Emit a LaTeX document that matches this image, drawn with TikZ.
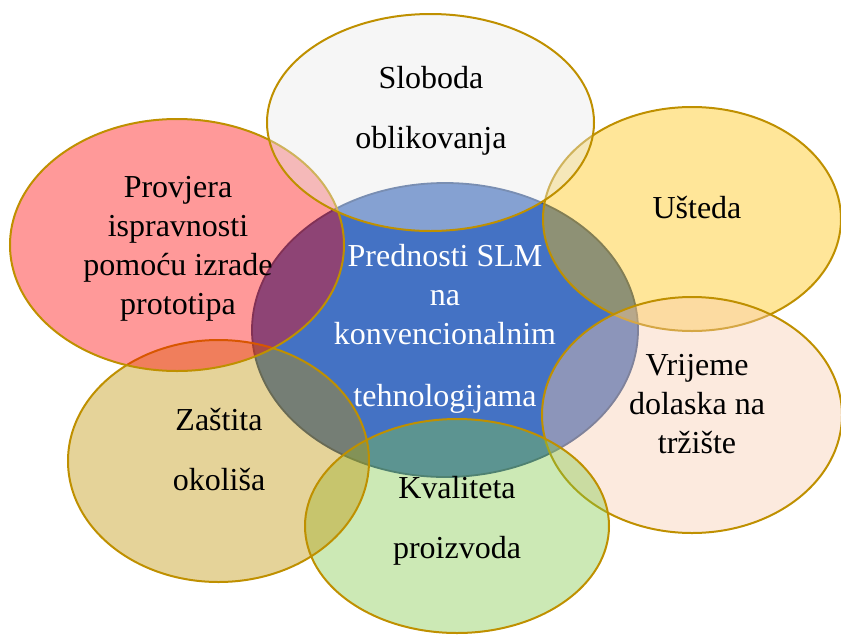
\documentclass[tikz,border=0pt]{standalone}
\usepackage{fontspec}
\setmainfont{Liberation Serif}
\usetikzlibrary{shapes.geometric}
\definecolor{ringgold}{HTML}{BF9000}
\definecolor{coreblue}{HTML}{4472C4}
\definecolor{coreedge}{HTML}{2F528F}
\definecolor{petalgray}{HTML}{E8E8E8}
\definecolor{petalgold}{HTML}{FFC000}
\definecolor{petalpeach}{HTML}{F8CBAD}
\definecolor{petalgreen}{HTML}{80C846}
\definecolor{petaltan}{HTML}{BF9000}
\definecolor{petalred}{HTML}{FF0000}
\begin{document}
\begin{tikzpicture}[x=1pt,y=-1pt,
  petal/.style={ellipse, draw=ringgold, line width=2pt, fill opacity=0.4, draw opacity=1, inner sep=0pt},
  corebox/.style={ellipse, draw=coreedge, fill=coreblue, line width=1.8pt, inner sep=0pt},
  lbl/.style={anchor=base, font=\fontsize{32}{39}\selectfont, inner sep=0pt, text=black},
  clbl/.style={lbl, text=white}]
\useasboundingbox (0,0) rectangle (841,635);
% centre
\node[corebox, minimum width=386pt, minimum height=294pt] (core) at (445,330) {};
% petals (drawing order matters for overlaps)
\node[petal, fill=petalgold, minimum width=298pt, minimum height=224pt] (usteda) at (692,219) {};
\node[petal, fill=petalpeach, minimum width=300pt, minimum height=236pt] (vrijeme) at (692,415) {};
\node[petal, fill=petalgreen, minimum width=304pt, minimum height=214pt] (kvaliteta) at (457,526) {};
\node[petal, fill=petaltan, minimum width=301pt, minimum height=242pt] (zastita) at (218.5,461) {};
\node[petal, fill=petalred, minimum width=334pt, minimum height=252pt] (provjera) at (177,245) {};
\node[petal, fill=petalgray, minimum width=327pt, minimum height=217pt] (sloboda) at (430.5,122.5) {};
% labels
\node[lbl] (t1a) at (431,88.3) {Sloboda};
\node[lbl] (t1b) at (431,148) {oblikovanja};
\node[lbl] (t2a) at (178,197) {Provjera};
\node[lbl] (t2b) at (178,236.5) {ispravnosti};
\node[lbl] (t2c) at (178,275.5) {pomoću izrade};
\node[lbl] (t2d) at (178,314) {prototipa};
\node[lbl] (t3a) at (697,218) {Ušteda};
\node[clbl] (c1) at (445,266.5) {Prednosti SLM};
\node[clbl] (c2) at (445,305) {na};
\node[clbl] (c3) at (445,344.5) {konvencionalnim};
\node[clbl] (c4) at (445,406.5) {tehnologijama};
\node[lbl] (t4a) at (697,375) {Vrijeme};
\node[lbl] (t4b) at (697,414) {dolaska na};
\node[lbl] (t4c) at (697,453) {tržište};
\node[lbl] (t5a) at (219,430) {Zaštita};
\node[lbl] (t5b) at (219,490) {okoliša};
\node[lbl] (t6a) at (457,498) {Kvaliteta};
\node[lbl] (t6b) at (457,558) {proizvoda};
\end{tikzpicture}
\end{document}
